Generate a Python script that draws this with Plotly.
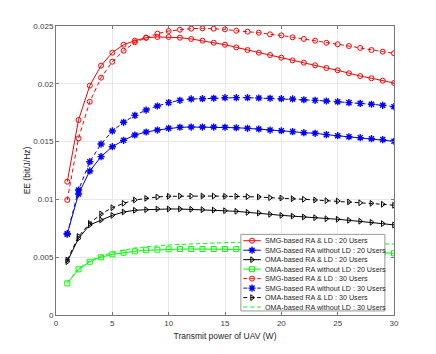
import plotly.graph_objects as go

power = list(range(1, 31))

smg_ld_20 = [0.01153, 0.01687, 0.01984, 0.02157, 0.02269, 0.02338, 0.02373, 0.02399, 0.02405, 0.02405,
             0.02399, 0.02388, 0.02373, 0.02355, 0.02338, 0.02315, 0.02292, 0.02269, 0.02249, 0.02226,
             0.02203, 0.02183, 0.0216, 0.02137, 0.02117, 0.02091, 0.02067, 0.02048, 0.02027, 0.02007]
smg_nold_20 = [0.00701, 0.01047, 0.01246, 0.0137, 0.01456, 0.01511, 0.01557, 0.01583, 0.016, 0.01615,
               0.01624, 0.01626, 0.01626, 0.01626, 0.01624, 0.0162, 0.01615, 0.01609, 0.016, 0.01594,
               0.01586, 0.01577, 0.01572, 0.0156, 0.01551, 0.01542, 0.01534, 0.01525, 0.01517, 0.01503]
oma_ld_20 = [0.00461, 0.00663, 0.00779, 0.00822, 0.00862, 0.00891, 0.00906, 0.00911, 0.00917, 0.00917,
             0.00917, 0.00914, 0.00911, 0.00908, 0.00902, 0.00897, 0.00888, 0.00882, 0.00871, 0.00862,
             0.00856, 0.00848, 0.00842, 0.00833, 0.00828, 0.00819, 0.00811, 0.00802, 0.0079, 0.00779]
oma_nold_20 = [0.00274, 0.00395, 0.00461, 0.00499, 0.00525, 0.00539, 0.00551, 0.0056, 0.00565, 0.00568,
               0.0057, 0.00571, 0.00571, 0.00571, 0.00571, 0.0057, 0.00569, 0.00567, 0.00565, 0.00563,
               0.00561, 0.00558, 0.00556, 0.00553, 0.0055, 0.00547, 0.00544, 0.00541, 0.00538, 0.00534]
smg_ld_30 = [0.00995, 0.01528, 0.01845, 0.02053, 0.02191, 0.02286, 0.02359, 0.02399, 0.02434, 0.02457,
             0.02468, 0.02477, 0.0248, 0.02477, 0.02471, 0.02459, 0.02451, 0.02442, 0.02428, 0.02419,
             0.02402, 0.02388, 0.02373, 0.02355, 0.02342, 0.02327, 0.0231, 0.02292, 0.02278, 0.02264]
smg_nold_30 = [0.00701, 0.01081, 0.01326, 0.01479, 0.01592, 0.01667, 0.01727, 0.01773, 0.01808, 0.01837,
               0.01857, 0.01869, 0.01871, 0.01875, 0.0188, 0.0188, 0.0188, 0.01877, 0.01875, 0.01871,
               0.01869, 0.01862, 0.01857, 0.01851, 0.01845, 0.01837, 0.01831, 0.01823, 0.01814, 0.01802]
oma_ld_30 = [0.00476, 0.0068, 0.00793, 0.00874, 0.00928, 0.00966, 0.00995, 0.01009, 0.01021, 0.01027,
             0.01029, 0.01029, 0.01029, 0.01029, 0.01027, 0.01027, 0.01024, 0.01021, 0.01015, 0.01012,
             0.01006, 0.01001, 0.00995, 0.00989, 0.00986, 0.00978, 0.00971, 0.00966, 0.00958, 0.00949]
oma_nold_30 = [0.0028, 0.004, 0.0047, 0.0051, 0.0054, 0.0056, 0.0058, 0.0059, 0.006, 0.00605,
               0.0061, 0.00615, 0.0062, 0.00624, 0.00626, 0.00628, 0.00629, 0.00629, 0.00629, 0.00628,
               0.00627, 0.00626, 0.00625, 0.00624, 0.00622, 0.0062, 0.00619, 0.00617, 0.00615, 0.00614]

x_ticks = [0, 5, 10, 15, 20, 25, 30]
y_ticks = [0, 0.005, 0.01, 0.015, 0.02, 0.025]
y_tick_text = ["0", "0.005", "0.01", "0.015", "0.02", "0.025"]

series = [
    ("SMG-based RA & LD : 20 Users", smg_ld_20, "#ff0000", "solid", "circle-open"),
    ("SMG-based RA without LD : 20 Users", smg_nold_20, "#0000ff", "solid", "asterisk-open"),
    ("OMA-based RA & LD : 20 Users", oma_ld_20, "#000000", "solid", "triangle-right-open"),
    ("OMA-based RA without LD : 20 Users", oma_nold_20, "#00ff00", "solid", "square-open"),
    ("SMG-based RA & LD : 30 Users", smg_ld_30, "#ff0000", "4px,3px", "circle-open"),
    ("SMG-based RA without LD : 30 Users", smg_nold_30, "#0000ff", "4px,3px", "asterisk-open"),
    ("OMA-based RA & LD : 30 Users", oma_ld_30, "#000000", "4px,3px", "triangle-right-open"),
    ("OMA-based RA without LD : 30 Users", oma_nold_30, "#00ff00", "4px,3px", None),
]


def marker_for(col, sym, opacity=1):
    star = sym == "asterisk-open"
    return dict(symbol=sym or "circle", size=6 if star else 5, color=col, opacity=opacity,
                line=dict(color=col, width=1.4 if star else 1))


fig = go.Figure()

for name, vals, col, dash, sym in series:
    fig.add_trace(go.Scatter(
        x=power, y=vals, name=name, mode="lines+markers" if sym else "lines",
        line=dict(color=col, width=1, dash=dash),
        marker=marker_for(col, sym),
    ))

# hand made legend on a hidden overlay axis (plotly's own legend rows are too tall)
box_x0, box_x1, box_y0, box_y1 = 0.547, 0.973, 0.014, 0.279
fig.add_trace(go.Scatter(
    x=[box_x0, box_x1, box_x1, box_x0, box_x0], y=[box_y0, box_y0, box_y1, box_y1, box_y0],
    xaxis="x2", yaxis="y2", mode="lines", fill="toself", fillcolor="white",
    line=dict(color="#999999", width=1), hoverinfo="skip",
))
row_top = 0.257
row_gap = 0.0328
for i, (name, vals, col, dash, sym) in enumerate(series):
    ry = row_top - i * row_gap
    fig.add_trace(go.Scatter(
        x=[0.554, 0.580, 0.606], y=[ry, ry, ry], xaxis="x2", yaxis="y2",
        mode="lines+markers" if sym else "lines",
        line=dict(color=col, width=1, dash=dash),
        marker=marker_for(col, sym, [0, 1, 0]),
        hoverinfo="skip",
    ))
    fig.add_annotation(x=0.611, y=ry, xref="x2", yref="y2", text=name, showarrow=False,
                       xanchor="left", yanchor="middle",
                       font=dict(size=7.2, color="#262626", family="Liberation Sans"))

axis_style = dict(showline=True, linecolor="#777777", linewidth=1, mirror="ticks",
                  ticks="inside", ticklen=3, tickcolor="#777777",
                  showgrid=True, gridcolor="#e8e8e8", gridwidth=1, zeroline=False,
                  tickfont=dict(size=8, color="#404040"))

# the page body adds 8px, so the margins are shifted to keep the axes where they belong
fig.update_layout(
    width=436, height=354,
    margin=dict(l=48, r=50, t=18, b=47),
    paper_bgcolor="white", plot_bgcolor="white",
    showlegend=False,
    font=dict(family="Liberation Sans", color="#262626"),
    xaxis=dict(range=[0, 30], tickvals=x_ticks,
               title=dict(text="Transmit power of UAV (W)", font=dict(size=8.5, color="#262626"), standoff=6),
               **axis_style),
    yaxis=dict(range=[0, 0.025], tickvals=y_ticks, ticktext=y_tick_text,
               title=dict(text="EE (bit/J/Hz)", font=dict(size=8.5, color="#262626"), standoff=1),
               **axis_style),
    xaxis2=dict(overlaying="x", anchor="y2", range=[0, 1], visible=False, fixedrange=True),
    yaxis2=dict(overlaying="y", anchor="x2", range=[0, 1], visible=False, fixedrange=True),
)

fig.write_html("out.html")
